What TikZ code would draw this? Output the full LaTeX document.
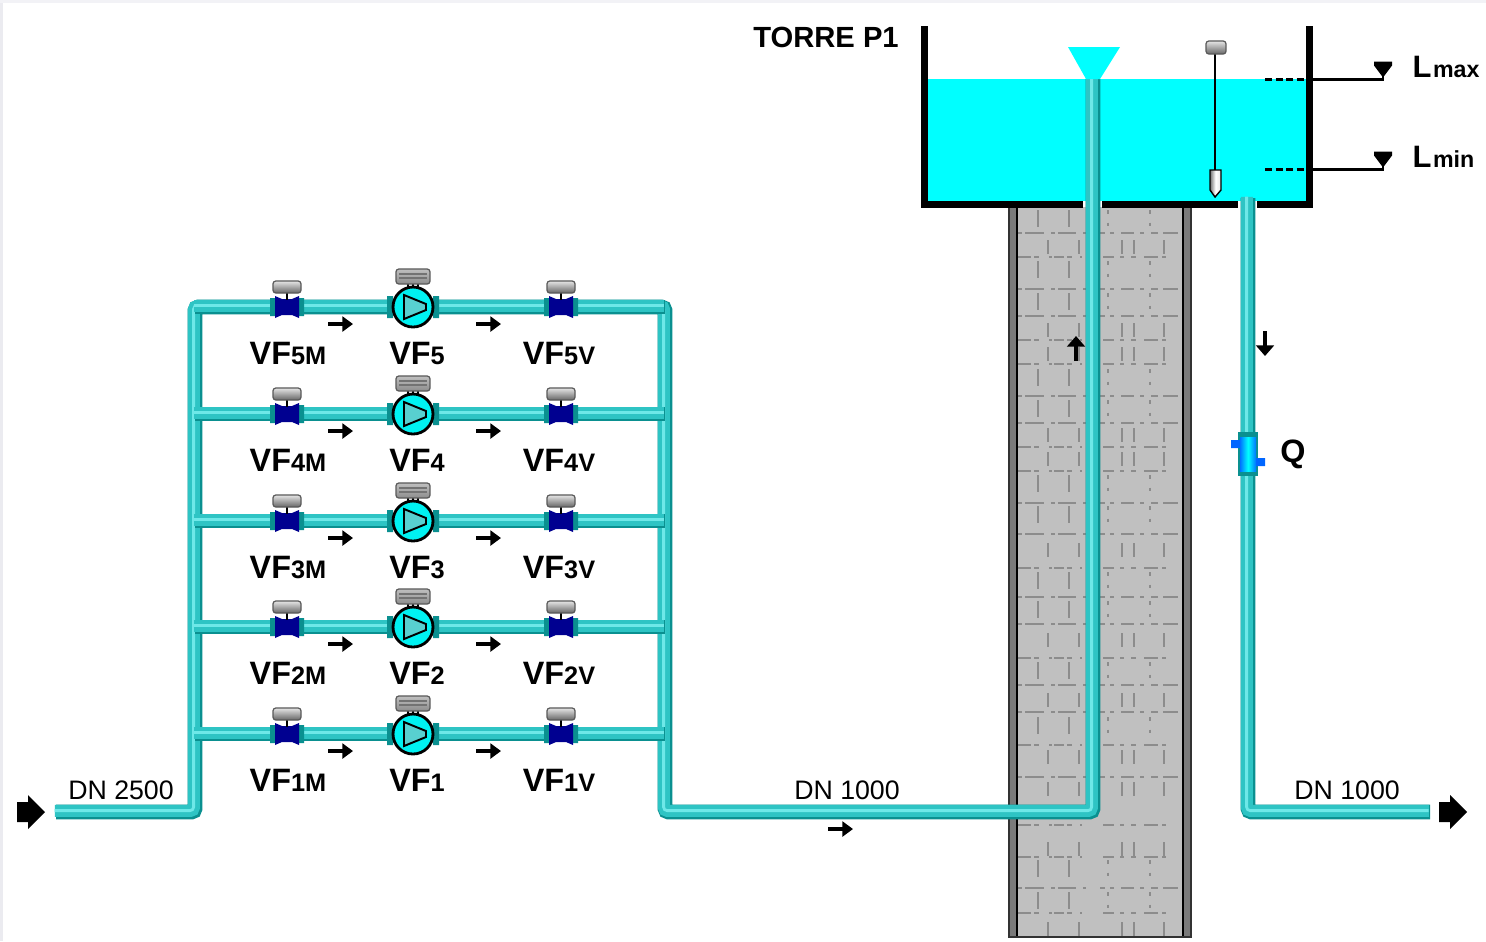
\documentclass[tikz,border=0pt]{standalone}
\usepackage{fontspec}
\setmainfont{Liberation Sans}
\usetikzlibrary{arrows.meta}
\definecolor{pipedk}{HTML}{0A9090}
\definecolor{pipemd}{HTML}{2EC4C4}
\definecolor{pipelt}{HTML}{6EE8E8}
\definecolor{water}{HTML}{00FFFF}
\definecolor{brickcol}{HTML}{8C8C8C}
\definecolor{towerin}{HTML}{C0C0C0}
\definecolor{towerbd}{HTML}{7A7A7A}
\definecolor{valveblue}{HTML}{000090}
\newcommand{\drawpipe}[1]{%
  \draw[pipebase,pipedk,line width=4.2pt] #1;
  \draw[pipebase,pipemd,line width=3.4pt,transform canvas={xshift=-0.3pt,yshift=0.3pt}] #1;
  \draw[pipebase,pipelt,line width=0.8pt,transform canvas={xshift=-0.4pt,yshift=0.4pt}] #1;}
\newcommand{\vftag}[2]{{\fontsize{9.2}{10}\selectfont\bfseries #1}{\fontsize{7.2}{8}\selectfont\bfseries #2}}
\newcommand{\lvltag}[1]{{\fontsize{8.8}{10}\selectfont\bfseries L}\kern0.4pt{\fontsize{6.6}{8}\selectfont\bfseries #1}}
\tikzset{
  pipebase/.style={line cap=butt,rounded corners=1pt},
  wall/.style={draw=black,line width=2pt},
  brick/.style={brickcol,line width=0.55pt},
  brickdot/.style={brick,dash pattern=on 1pt off 2.6pt},
  flow/.style={line width=1.1pt,-{Triangle[length=3pt,width=4.2pt]}},
  flowv/.style={line width=1.3pt,-{Triangle[length=3pt,width=5pt]}},
  bigarrow/.style={fill=black,draw=none},
  tag/.style={inner sep=0pt},
  dntag/.style={inner sep=0pt,font=\fontsize{7.6}{9}\selectfont},
  capgrey/.style={draw=black!65,line width=0.35pt,top color=black!10,bottom color=black!60,rounded corners=0.8pt},
  valve/.pic={
    \fill[pipedk] (-17,-9) rectangle (-12,9) (12,-9) rectangle (17,9);
    \fill[valveblue] (-12,-11) -- (-5,-8) -- (5,-8) -- (12,-11) -- (12,11) -- (5,8) -- (-5,8) -- (-12,11) -- cycle;
    \draw[line width=0.8pt] (0,-17) -- (0,-7);
    \path[capgrey] (-14,-26) rectangle (14,-14);
  },
  pump/.pic={
    \fill[pipedk] (-26,-11) rectangle (-20,11) (20,-11) rectangle (26,11);
    \draw[line width=0.4pt] (-5,-24) -- (-5,-19) (0,-24) -- (0,-19) (5,-24) -- (5,-19);
    \path[capgrey,top color=black!25,bottom color=black!45] (-17,-38) rectangle (17,-23);
    \draw[black!55,line width=0.35pt] (-14,-33) -- (14,-33) (-14,-29) -- (14,-29);
    \draw[line width=0.8pt,fill=water!95!black] (0,0) circle (20);
    \draw[line width=0.55pt,fill=pipemd!80!white] (-9,-12) -- (13,-3) -- (13,3) -- (-9,12) -- cycle;
  }
}
\begin{document}
\begin{tikzpicture}[x=0.01cm,y=-0.01cm]
\useasboundingbox (0,0) rectangle (1486,941);
\fill[white] (0,0) rectangle (1486,941);
\fill[blue!25!black!8] (0,0) rectangle (3,941);
\fill[blue!25!black!5] (0,0) rectangle (1486,3);

% tower
\fill[towerin] (1012,207) rectangle (1188,936);
\fill[towerbd] (1009,207) rectangle (1017,937) (1183,207) rectangle (1191,937);
\draw[line width=0.45pt] (1017,207) -- (1017,937) (1183,207) -- (1183,937);
\draw[black!80,line width=0.4pt] (1009,207) -- (1009,937) -- (1191,937) -- (1191,207);
\foreach \y in {233,289,316,396,423,503,534,597,624,685,712,777,888}
  \foreach \a/\b in {1018/1022,1025/1044,1051/1055,1058/1076,1083/1086,1100/1105,1110/1114,1121/1134,1140/1144,1151/1158,1163/1178}
    \draw[brick] (\a,\y) -- (\b,\y);
\foreach \y in {257,340,364,447,471,568,658,745,825,857,913}
  \foreach \a/\b in {1018/1031,1034/1039,1049/1052,1054/1064,1067/1072,1080/1082,1103/1114,1120/1124,1131/1136,1144/1158,1162/1166}
    \draw[brick] (\a,\y) -- (\b,\y);
\foreach \y in {210,261,293,369,400,475,506,572,601,662,717,860,892} {
  \draw[brick] (1038,\y) -- +(0,17) (1069,\y) -- +(0,17);
  \draw[brickdot] (1108,\y) -- +(0,17) (1150,\y) -- +(0,17);
}
\foreach \y in {240,323,347,428,452,543,633,693,750,782,842,922} {
  \draw[brick] (1048,\y) -- +(0,14) (1079,\y) -- +(0,14);
  \draw[brick] (1122,\y) -- +(0,14) (1134,\y) -- +(0,14) (1164,\y) -- +(0,14);
}

% tank
\fill[water] (928,79) rectangle (1307,201);
\draw[wall] (924.5,26) -- (924.5,204.5) -- (1083,204.5);
\draw[wall] (1102,204.5) -- (1238,204.5);
\draw[wall] (1257,204.5) -- (1309.5,204.5) -- (1309.5,26);
\node[tag,font=\fontsize{8.3}{10}\selectfont\bfseries] (torre) at (826,37) {TORRE P1};

% pipes
\coordinate (in) at (56,812);
\coordinate (lbot) at (195,812);
\coordinate (rbot) at (665,812);
\coordinate (risebot) at (1093,812);
\coordinate (risetop) at (1093,79);
\coordinate (outtop) at (1248,198);
\coordinate (outbot) at (1248,812);
\coordinate (outend) at (1430,812);
\coordinate (ltop) at (195,307);
\coordinate (rtop) at (665,307);
\drawpipe{(in) -- (lbot) -- (ltop) -- (rtop) -- (rbot) -- (risebot) -- (risetop)}
\drawpipe{(outtop) -- (outbot) -- (outend)}

\fill[water] (1068,47) -- (1120,47) -- (1100,79) -- (1086,79) -- cycle;

\foreach \y/\n in {307/5,414/4,521/3,627/2,734/1} {
  \coordinate (lhd\n) at (195,\y);
  \coordinate (rhd\n) at (665,\y);
  \drawpipe{(lhd\n) -- (rhd\n)}
  \coordinate (vm\n) at (287,\y);
  \coordinate (pump\n) at (413,\y);
  \coordinate (vv\n) at (561,\y);
  \pic at (vm\n) {valve};
  \pic at (pump\n) {pump};
  \pic at (vv\n) {valve};
  \draw[flow] (328,\y+17) -- (353,\y+17);
  \draw[flow] (476,\y+17) -- (501,\y+17);
  \node[tag] (lbm\n) at (288,\y+46) {\vftag{VF}{\n M}};
  \node[tag] (lbp\n) at (417,\y+46) {\vftag{VF}{\n}};
  \node[tag] (lbv\n) at (559,\y+46) {\vftag{VF}{\n V}};
}

% flow arrows
\draw[flow] (828,829) -- (853,829);
\draw[flowv] (1076,361) -- (1076,336);
\draw[flowv] (1265,331) -- (1265,356);
\fill[bigarrow] (17,802) -- (28,802) -- (28,795) -- (45,812) -- (28,829) -- (28,822) -- (17,822) -- cycle;
\fill[bigarrow] (1439,802) -- (1450,802) -- (1450,795) -- (1467,812) -- (1450,829) -- (1450,822) -- (1439,822) -- cycle;
\node[dntag] (dnin) at (121,790) {DN 2500};
\node[dntag] (dnmid) at (847,790) {DN 1000};
\node[dntag] (dnout) at (1347,790) {DN 1000};

% level probe
\draw[line width=0.5pt] (1215,48) -- (1215,170);
\path[capgrey] (1206,41) rectangle (1226,54);
\draw[line width=0.4pt,left color=black!55,right color=black!10,middle color=white] (1210,170) -- (1221,170) -- (1221,190) -- (1215,197) -- (1210,190) -- cycle;

% levels
\foreach \y/\nm/\txt in {79.5/lmax/max,169.5/lmin/min} {
  \draw[line width=0.7pt,dash pattern=on 2pt off 1pt] (1265,\y) -- (1306,\y);
  \draw[line width=0.6pt] (1309,\y) -- (1383,\y) -- (1383,\y-4);
  \fill (1374,\y-18) -- (1392,\y-18) -- (1392,\y-14) -- (1383,\y-2) -- (1374,\y-14) -- cycle;
}
\node[tag,anchor=west] (lmax) at (1412,67) {\lvltag{max}};
\node[tag,anchor=west] (lmin) at (1412,157) {\lvltag{min}};

% flow meter
\fill[pipedk] (1238,432) rectangle (1258,476);
\fill[blue!60!cyan] (1231,440) rectangle (1240,448) (1256,458) rectangle (1265,466);
\shade[left color=blue!55!cyan,right color=blue!55!cyan,middle color=cyan] (1240,437) rectangle (1256,471);
\node[tag,font=\fontsize{9.2}{11}\selectfont\bfseries] (qlab) at (1293,454) {Q};
\end{tikzpicture}
\end{document}
